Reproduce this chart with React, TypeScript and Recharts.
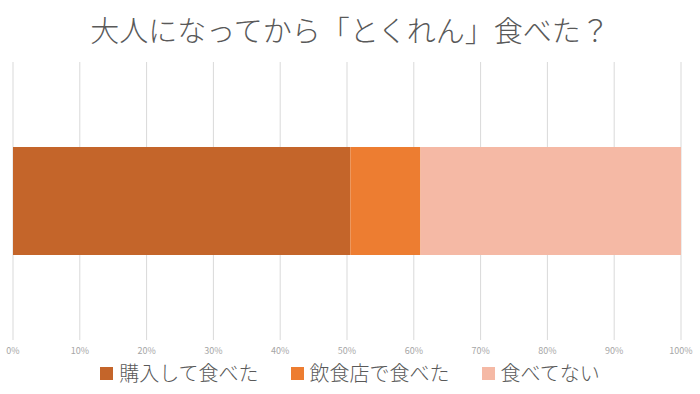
import { BarChart, Bar, XAxis, YAxis, CartesianGrid, Legend } from "recharts";

const title = "大人になってから「とくれん」食べた？";
const categories = ["とくれん"];
const seriesNames = ["購入して食べた", "飲食店で食べた", "食べてない"];
const bought = [0.505];
const restaurant = [0.105];
const notEaten = [0.39];
const ticks = [0, 0.1, 0.2, 0.3, 0.4, 0.5, 0.6, 0.7, 0.8, 0.9, 1];

const colors = ["#C4652A", "#ED7D31", "#F5B9A5"];
const keys = ["bought", "restaurant", "notEaten"];

const data = categories.map((name, i) => ({
  name,
  bought: bought[i],
  restaurant: restaurant[i],
  notEaten: notEaten[i],
}));

const font = '"Noto Sans CJK JP", "Noto Sans", sans-serif';

function LegendContent() {
  return (
    <div
      style={{
        display: "flex",
        justifyContent: "center",
        gap: 32,
        fontFamily: font,
        fontSize: 20,
        lineHeight: "26px",
        color: "#595959",
        fontWeight: 300,
      }}
    >
      {seriesNames.map((n, i) => (
        <div key={n} style={{ display: "flex", alignItems: "center" }}>
          <span
            style={{
              width: 13,
              height: 13,
              background: colors[i],
              display: "inline-block",
              marginRight: 6,
            }}
          />
          <span>{n}</span>
        </div>
      ))}
    </div>
  );
}

export default function App() {
  return (
    <div style={{ position: "absolute", left: 0, top: 0, width: 700, height: 394, background: "#fff" }}>
      <div
        style={{
          position: "absolute",
          top: 9,
          left: 0,
          width: 700,
          textAlign: "center",
          fontFamily: font,
          fontSize: 29,
          fontWeight: 300,
          color: "#595959",
          lineHeight: "40px",
        }}
      >
        {title}
      </div>
      <BarChart
        width={700}
        height={394}
        data={data}
        layout="vertical"
        margin={{ top: 62, right: 19, bottom: 6, left: 13 }}
      >
        <CartesianGrid horizontal={false} stroke="#d9d9d9" />
        <XAxis
          type="number"
          domain={[0, 1]}
          ticks={ticks}
          interval={0}
          axisLine={false}
          tickLine={false}
          tickFormatter={(v: number) => `${Math.round(v * 100)}%`}
          tick={{ fill: "#a6a6a6", fontSize: 9, fontFamily: font }}
          tickMargin={2}
          height={20}
        />
        <YAxis type="category" dataKey="name" hide />
        <Legend
          content={<LegendContent />}
          height={28}
          wrapperStyle={{ position: "absolute", top: 360, left: 0, width: 700 }}
        />
        {keys.map((k, i) => (
          <Bar
            key={k}
            dataKey={k}
            name={seriesNames[i]}
            stackId="a"
            fill={colors[i]}
            barSize={108}
            isAnimationActive={false}
          />
        ))}
      </BarChart>
    </div>
  );
}
